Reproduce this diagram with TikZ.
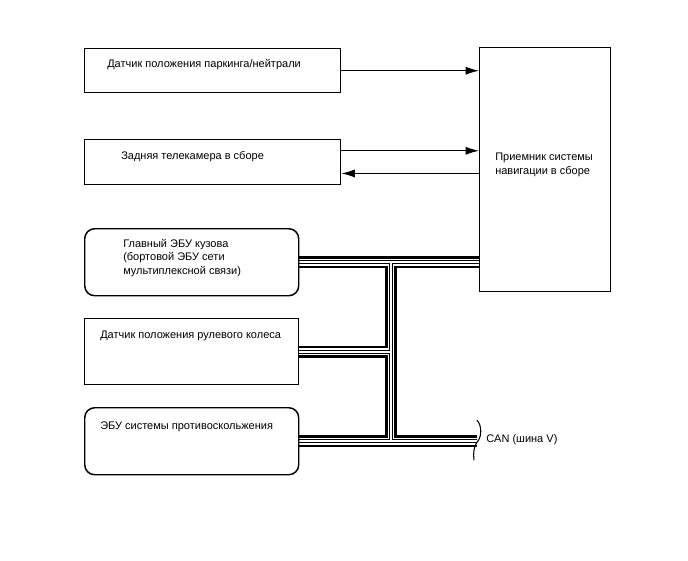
\documentclass[tikz,border=0pt]{standalone}
\usepackage{fontspec}
\setmainfont{Liberation Sans}
\usetikzlibrary{arrows.meta,backgrounds}
\begin{document}
\begin{tikzpicture}[x=0.75pt,y=-0.75pt,
  box/.style={draw, line width=1.1pt, inner sep=0pt, anchor=north west},
  rbox/.style={box, rounded corners=7.5pt},
  txt/.style={anchor=west, inner sep=0pt, align=left, font=\fontsize{8.25pt}{10.3pt}\selectfont},
  arr/.style={line width=0.75pt, -{Latex[length=10pt,width=6pt]}},
  thin/.style={line width=0.8pt}
]
\useasboundingbox (0,0) rectangle (688,560);

% boxes
\node[box, minimum width=192pt, minimum height=33pt] (park) at (84,48) {};
\node[box, minimum width=192pt, minimum height=33.75pt] (cam) at (84,139) {};
\node[box, minimum width=98.25pt, minimum height=183pt] (nav) at (479,47) {};
\node[rbox, minimum width=160.5pt, minimum height=50.25pt] (eb) at (84,228) {};
\node[box, minimum width=160.5pt, minimum height=49.5pt] (st) at (84,318) {};
\node[rbox, minimum width=160.5pt, minimum height=50.25pt] (abs) at (84,407) {};

% texts
\node[txt] (tpark) at (107,65) {Датчик положения паркинга/нейтрали};
\node[txt] (tcam) at (121,157) {Задняя телекамера в сборе};
\node[txt] (tnav) at (495,165) {Приемник системы\\навигации в сборе};
\node[txt] (teb) at (123,258) {Главный ЭБУ кузова\\(бортовой ЭБУ сети\\мультиплексной связи)};
\node[txt] (tst) at (100,336) {Датчик положения рулевого колеса};
\node[txt] (tabs) at (100,427) {ЭБУ системы противоскольжения};

% arrows
\draw[arr] (park.east) -- (park.east -| nav.west);
\draw[arr] ([yshift=8.6pt]cam.east) -- ([yshift=8.6pt]cam.east -| nav.west);
\draw[arr] ([yshift=-8.4pt]cam.east -| nav.west) -- ([yshift=-8.4pt]cam.east);

% bus
\coordinate (jt) at (391,0 |- eb.east);
\coordinate (jb) at (391,0 |- abs.east);
\coordinate (can) at (477,0 |- abs.east);
\begin{scope}[on background layer]
\foreach \w/\c in {9pt/black, 5pt/white, 3pt/black, 1.6pt/white} {
  \draw[line width=\w, \c] (eb.east) -- (eb.east -| nav.west)
    (jt) -- (jb)
    (st.east) -- (jt |- st.east)
    (abs.east) -- (can);
}
\end{scope}

% CAN break mark and label
\draw[thin] ([shift={(0,-21)}]can) .. controls ([shift={(5,-16)}]can) and ([shift={(5,-4)}]can) .. ([shift={(0,1)}]can)
  .. controls ([shift={(-3,5)}]can) and ([shift={(-4,12)}]can) .. ([shift={(-3,19)}]can);
\node[txt] (tcan) at (486,440) {CAN (шина V)};
\end{tikzpicture}
\end{document}
